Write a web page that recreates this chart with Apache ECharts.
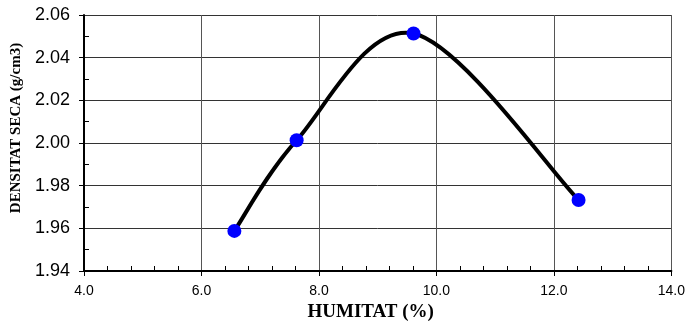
<!DOCTYPE html>
<html><head><meta charset="utf-8">
<script src="https://cdn.jsdelivr.net/npm/echarts@6/dist/echarts.min.js"></script>
<style>html,body{margin:0;padding:0;background:#fff}#c{width:688px;height:334px}</style>
</head><body><div id="c"></div>
<script>
var humitat = [6.56, 7.62, 9.61, 12.42];
var densitat = [1.9588, 2.0013, 2.0513, 1.9733];
var xTitle = 'HUMITAT (%)';
var yTitle = 'DENSITAT SECA (g/cm3)';

var chart = echarts.init(document.getElementById('c'));
var pts = humitat.map(function(x,i){return [x, densitat[i]];});

function renderCurve(params, api){
  if (params.dataIndex !== 0) return null;
  var P = pts.map(function(p){ return api.coord(p); });
  var n = P.length, children = [];
  for (var i = 0; i < n-1; i++){
    var p0 = P[Math.max(i-1,0)], p1 = P[i], p2 = P[i+1], p3 = P[Math.min(i+2,n-1)];
    var c1 = [p1[0] + (p2[0]-p0[0])/6, p1[1] + (p2[1]-p0[1])/6];
    var c2 = [p2[0] - (p3[0]-p1[0])/6, p2[1] - (p3[1]-p1[1])/6];
    children.push({type:'bezierCurve', shape:{x1:p1[0],y1:p1[1],x2:p2[0],y2:p2[1],cpx1:c1[0],cpy1:c1[1],cpx2:c2[0],cpy2:c2[1]},
      style:{stroke:'#000', lineWidth:4, fill:null, lineCap:'round'}});
  }
  return {type:'group', children:children};
}

chart.setOption({
  animation:false,
  grid:{left:84, right:15, top:15, bottom:63},
  xAxis:{type:'value', min:4, max:14, interval:2,
    axisLine:{show:true, lineStyle:{color:'#000', width:2}},
    axisTick:{show:true, length:5, lineStyle:{color:'#000'}},
    minorTick:{show:true, splitNumber:5, length:-5, lineStyle:{color:'#000'}},
    axisLabel:{formatter:function(v){return v.toFixed(1);}, fontFamily:'Liberation Sans', fontSize:14, color:'#000', margin:13},
    splitLine:{show:true, lineStyle:{color:'#555', width:1}},
    name:xTitle, nameLocation:'middle', nameGap:25,
    nameTextStyle:{fontFamily:'Liberation Serif', fontWeight:'bold', fontSize:19, color:'#000', padding:[0,14,0,0]}},
  yAxis:{type:'value', min:1.94, max:2.06, interval:0.02,
    axisLine:{show:true, lineStyle:{color:'#000', width:2}},
    axisTick:{show:true, length:5, lineStyle:{color:'#000'}},
    minorTick:{show:true, splitNumber:2, length:-5, lineStyle:{color:'#000'}},
    axisLabel:{formatter:function(v){return v.toFixed(2);}, fontFamily:'Liberation Sans', fontSize:18, color:'#000', margin:14},
    splitLine:{show:true, lineStyle:{color:'#333', width:1}},
    name:yTitle, nameLocation:'middle', nameGap:59,
    nameTextStyle:{fontFamily:'Liberation Serif', fontWeight:'bold', fontSize:15, color:'#000', padding:[0,0,0,30]}},
  series:[
    {type:'custom', data:pts, renderItem:renderCurve, z:2, silent:true},
    {type:'line', data:pts, symbol:'circle', symbolSize:14,
      itemStyle:{color:'#0000ff'}, lineStyle:{width:0, opacity:0}, z:3}]
});
</script></body></html>
